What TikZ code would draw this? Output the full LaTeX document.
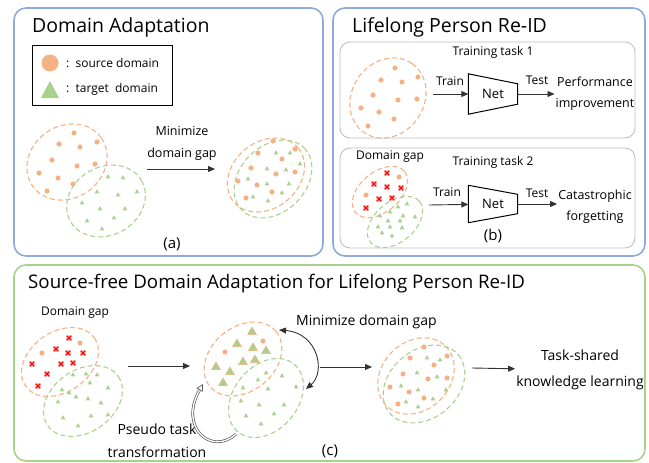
\documentclass[tikz,border=0pt]{standalone}
\usepackage{fontspec}
\setmainfont{Open Sans}
\usepackage{xcolor}
\usetikzlibrary{arrows.meta, positioning, shapes.geometric}

\definecolor{boxblue}{HTML}{8FAADC}
\definecolor{boxgreen}{HTML}{A9D18E}
\definecolor{srcorange}{HTML}{F4B183}
\definecolor{tgtgreen}{HTML}{A9D18E}

% markers for the sample clouds
\newcommand\srcdot[1]{\fill[srcorange] #1 circle (2.6);}
\newcommand\tgttri[1]{\fill[tgtgreen] #1 ++(0,-2.8) -- ++(2.4,4.2) -- ++(-4.8,0) -- cycle;}
\newcommand\bigtri[1]{\filldraw[fill=tgtgreen, draw=srcorange, line width=0.5pt] #1 ++(0,-5) -- ++(4.5,7.6) -- ++(-9,0) -- cycle;}
\newcommand\crossmark[1]{\fill[red!18] #1 +(-3.3,-3.3) rectangle +(3.3,3.3);
  \draw[red, line width=1.3pt] #1 +(-2.2,-2.2) -- +(2.2,2.2) #1 +(-2.2,2.2) -- +(2.2,-2.2);}

\begin{document}
\begin{tikzpicture}[
    x=1pt, y=-1pt,
    panelA/.style={draw=boxblue, line width=1.6pt, rounded corners=12pt},
    panelC/.style={draw=boxgreen, line width=1.6pt, rounded corners=12pt},
    taskbox/.style={draw=black!25, line width=0.9pt, rounded corners=10pt},
    title/.style={font=\fontsize{19.5}{22}\selectfont, anchor=base west, inner sep=0pt},
    lbl/.style={font=\fontsize{12}{14}\selectfont, inner sep=1pt},
    biglbl/.style={font=\fontsize{14}{24}\selectfont, inner sep=1pt, align=center},
    sublbl/.style={font=\fontsize{15}{18}\selectfont, inner sep=0pt},
    srcring/.style={draw=srcorange, dash pattern=on 5pt off 3pt, line width=1.1pt},
    tgtring/.style={draw=tgtgreen, dash pattern=on 5pt off 3pt, line width=1.1pt},
    netbox/.style={minimum width=49pt, minimum height=40pt, inner sep=0pt, font=\fontsize{13}{15}\selectfont},
    netline/.style={draw, line width=1pt},
    arrow/.style={draw=black!80, line width=0.9pt, -{Triangle[length=7pt,width=6pt]}},
    pseudo/.style={draw=black!65, line width=0.7pt, double=white, double distance=1.3pt, -{Triangle[open,length=7pt,width=7pt]}}
]
    \useasboundingbox (0,0) rectangle (649,463);

    % Panels
    \draw[panelA] (14,8) rectangle (323,256);
    \draw[panelA] (333,8) rectangle (645,256);
    \draw[panelC] (14,265) rectangle (645,461);
    \draw[taskbox] (340,42) rectangle (635,138);
    \draw[taskbox] (340,148) rectangle (635,248);

    % Titles
    \node[title] (titleA) at (32,32) {Domain Adaptation};
    \node[title] (titleB) at (352,32) {Lifelong Person Re-ID};
    \node[title, font=\fontsize{18.7}{22}\selectfont] (titleC) at (28,288) {Source-free Domain Adaptation for Lifelong Person Re-ID};

    % Legend
    \draw[line width=1pt] (32,45) rectangle (172,105);
    \fill[srcorange] (50,63) circle (8.5);
    \fill[tgtgreen] (50,81) -- (59,98) -- (41,98) -- cycle;
    \node[lbl, anchor=west] (legsrc) at (65,63) {:\ \ source domain};
    \node[lbl, anchor=west] (legtgt) at (65,89) {:\ \ target\ \ domain};

    % (a) two separate domains
    \draw[srcring, rotate around={35:(67,162)}] (67,162) ellipse [x radius=42, y radius=36];
    \draw[tgtring, rotate around={30:(106,201)}] (106,201) ellipse [x radius=41, y radius=34];
    \foreach \p in {(74,133),(59,144),(80,147),(97,142),(52,160),(77,166),(95,164),(39,173),(58,178),(73,184),(47,191)}
        {\srcdot{\p}}
    \foreach \p in {(108,177),(123,178),(97,192),(118,195),(137,192),(82,203),(100,209),(125,209),(87,221),(114,218),(102,229)}
        {\tgttri{\p}}

    % (a) aligned domains
    \draw[srcring, rotate around={40:(266,175)}] (266,175) ellipse [x radius=42, y radius=33];
    \draw[tgtring, rotate around={45:(273,179)}] (273,179) ellipse [x radius=44, y radius=33];
    \foreach \p in {(273,141),(258,153),(295,149),(282,159),(251,168),(276,174),(295,172),(238,181),(257,185),(272,192),(246,198)}
        {\srcdot{\p}}
    \foreach \p in {(276,153),(290,153),(267,169),(286,170),(300,164),(248,179),(267,184),(289,184),(253,197),(268,201),(282,193)}
        {\tgttri{\p}}

    \coordinate (gapA) at (147,169);
    \coordinate (mixA) at (215,169);
    \draw[arrow] (gapA) -- (mixA);
    \node[lbl, align=center, font=\fontsize{12.5}{22}\selectfont] (minA) at (182,143) {Minimize\\domain gap};
    \node[sublbl] (capA) at (172,244) {(a)};

    % (b) training task 1
    \node[lbl] (task1) at (493,52) {Training task 1};
    \draw[srcring, rotate around={55:(388,98)}] (388,98) ellipse [x radius=42, y radius=36];
    \foreach \p in {(395,68),(381,80),(402,82),(418,77),(373,95),(398,100),(417,99),(361,108),(379,112),(394,119),(368,126)}
        {\srcdot{\p}}
    \coordinate (trainA) at (433,94);
    \node[netbox] (netA) at (493,94) {Net};
    \draw[netline] (netA.north west) -- ([yshift=-10pt]netA.north east) -- ([yshift=10pt]netA.south east) -- (netA.south west) -- cycle;
    \node[lbl, align=center, font=\fontsize{12.5}{21}\selectfont] (perf) at (595,94) {Performance\\improvement};
    \draw[arrow] (trainA) -- (netA);
    \draw[arrow] (netA) -- (perf);
    \node[lbl] (trainAlbl) at (450,81) {Train};
    \node[lbl] (testAlbl) at (537,80) {Test};

    % (b) training task 2
    \node[lbl] (gapB) at (390,157) {Domain gap};
    \node[lbl] (task2) at (493,162) {Training task 2};
    \draw[srcring, rotate around={40:(380,192)}] (380,192) ellipse [x radius=32, y radius=20];
    \draw[tgtring, rotate around={40:(395,222)}] (395,222) ellipse [x radius=32, y radius=20];
    \foreach \p in {(399,177),(366,195)}
        {\srcdot{\p}}
    \foreach \p in {(407,204),(398,207),(390,212),(380,216),(403,216),(415,217),(388,221),(400,221),(378,227),(390,227),(402,228),(382,233),(392,236)}
        {\tgttri{\p}}
    \foreach \p in {(387,173),(374,184),(387,187),(401,188),(379,199),(392,198),(366,208)}
        {\crossmark{\p}}
    \coordinate (trainB) at (429,205);
    \node[netbox, minimum height=37pt] (netB) at (493,204) {Net};
    \draw[netline] (netB.north west) -- ([yshift=-9pt]netB.north east) -- ([yshift=9pt]netB.south east) -- (netB.south west) -- cycle;
    \node[lbl, align=center, font=\fontsize{12.5}{21}\selectfont] (forget) at (595,207) {Catastrophic\\forgetting};
    \draw[arrow] (trainB) -- (netB);
    \draw[arrow] (netB) -- (netB -| forget.west);
    \node[lbl] (trainBlbl) at (447,192) {Train};
    \node[lbl] (testBlbl) at (537,193) {Test};
    \node[sublbl] (capB) at (493,236) {(b)};

    % (c) new task with a domain gap
    \node[lbl] (gapC) at (75,313) {Domain gap};
    \draw[srcring, rotate around={35:(60,362)}] (60,362) ellipse [x radius=42, y radius=30];
    \draw[tgtring, rotate around={35:(83,401)}] (83,401) ellipse [x radius=43, y radius=31];
    \foreach \p in {(80,343),(42,353)}
        {\srcdot{\p}}
    \foreach \p in {(73,375),(86,374),(97,375),(62,390),(69,393),(90,383),(108,388),(58,402),(76,397),(88,399),(101,403),(63,418),(78,426),(91,416),(108,415)}
        {\tgttri{\p}}
    \foreach \p in {(69,338),(56,349),(68,353),(83,353),(32,364),(61,364),(73,363),(47,374),(38,386)}
        {\crossmark{\p}}

    % (c) pseudo task
    \draw[srcring, rotate around={40:(243,359)}] (243,359) ellipse [x radius=43, y radius=32];
    \draw[tgtring, rotate around={50:(266,398)}] (266,398) ellipse [x radius=44, y radius=32];
    \foreach \p in {(263,341),(225,352)}
        {\srcdot{\p}}
    \foreach \p in {(252,332),(237,344),(253,348),(266,351),(216,367),(230,372),(243,362),(255,360),(223,383)}
        {\bigtri{\p}}
    \foreach \p in {(258,380),(266,373),(282,376),(296,387),(243,388),(268,389),(241,401),(259,405),(284,405),(246,416),(274,414),(261,424)}
        {\tgttri{\p}}

    % (c) aligned tasks
    \draw[srcring, rotate around={45:(416,376)}] (416,376) ellipse [x radius=42, y radius=34];
    \draw[tgtring, rotate around={40:(424,384)}] (424,384) ellipse [x radius=45, y radius=34];
    \foreach \p in {(424,347),(410,358),(447,356),(434,365),(403,374),(428,379),(447,378),(390,387),(409,392),(424,398),(398,404)}
        {\srcdot{\p}}
    \foreach \p in {(427,358),(440,360),(417,373),(437,377),(401,386),(418,390),(433,399),(406,402),(418,407),(446,390)}
        {\tgttri{\p}}

    % (c) labels and arrows
    \coordinate (c1s) at (128,366);
    \coordinate (c1e) at (190,366);
    \coordinate (c2s) at (320,367);
    \coordinate (c2e) at (372,367);
    \coordinate (c3s) at (472,368);
    \node[biglbl, font=\fontsize{14}{26}\selectfont] (shared) at (580,370) {Task-shared\\knowledge learning};
    \draw[arrow] (c1s) -- (c1e);
    \draw[arrow] (c2s) -- (c2e);
    \draw[arrow] (c3s) -- (shared);

    \node[biglbl, anchor=west] (minC) at (295,322) {Minimize domain gap};
    \coordinate (gapTop) at (279,330);
    \coordinate (gapBot) at (306,389);
    \draw[arrow, {Triangle[length=7pt,width=6pt]}-{Triangle[length=7pt,width=6pt]}] (gapTop) .. controls (318,333) and (326,372) .. (gapBot);

    \node[biglbl, font=\fontsize{14}{23}\selectfont] (pseudoC) at (157,441) {Pseudo task\\transformation};
    \coordinate (ptS) at (236,434);
    \coordinate (ptE) at (203,384);
    \draw[pseudo] (ptS) .. controls (212,456) and (178,428) .. (ptE);

    \node[sublbl] (capC) at (330,451) {(c)};
\end{tikzpicture}
\end{document}
